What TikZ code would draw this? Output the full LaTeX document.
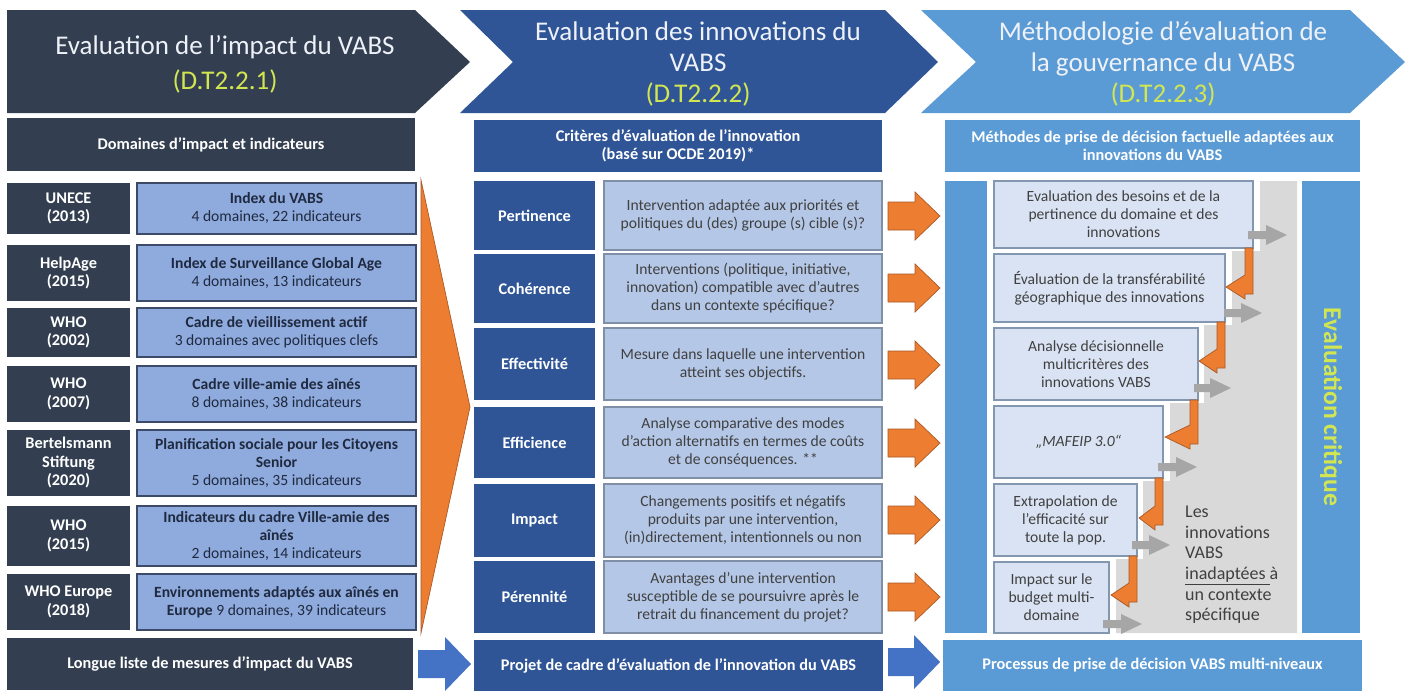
\documentclass[tikz,border=0pt]{standalone}
\usepackage{fontspec}
\setmainfont{Carlito}
\usepackage{tikz}

\definecolor{navy}{HTML}{333F50}
\definecolor{cboxA}{HTML}{8FAADC}
\definecolor{cbordA}{HTML}{3B4A66}
\definecolor{blueB}{HTML}{2F5597}
\definecolor{cboxB}{HTML}{B4C7E7}
\definecolor{cbordB}{HTML}{7F8FA6}
\definecolor{blueC}{HTML}{5B9BD5}
\definecolor{cboxC}{HTML}{DAE3F3}
\definecolor{cbordC}{HTML}{8497B0}
\definecolor{ygreen}{HTML}{D2E652}
\definecolor{orangeA}{HTML}{ED7D31}
\definecolor{orangeE}{HTML}{A85A28}
\definecolor{grayband}{HTML}{D9D9D9}
\definecolor{grayarrow}{HTML}{A6A6A6}
\definecolor{arrowblue}{HTML}{4472C4}
\definecolor{txtdark}{HTML}{404040}
\definecolor{txtnavy}{HTML}{1F2A40}
\definecolor{titletext}{HTML}{EEF2F8}

\newcommand\ftitle{\fontsize{27}{31}\selectfont}
\newcommand\fsmall{\fontsize{15.6}{18}\selectfont}
\newcommand\fhead{\fontsize{16.3}{18.5}\selectfont}
\newcommand\fles{\fontsize{18}{20.6}\selectfont}
\newcommand\fcrit{\fontsize{25.6}{29}\selectfont}

% rectangle node given by its corners: style, name, x1, y1, x2, y2, text
\newcommand\mkbox[7]{%
  \node[#1, minimum width={(#5-#3)*1pt}, minimum height={(#6-#4)*1pt}]
    (#2) at ({(#3+#5)/2},{(#4+#6)/2}) {#7};}

% straight block arrow: style, x1, x2, y centre, shaft half height, head half height, head length
\newcommand\blockarrow[7]{%
  \filldraw[#1] (#2,{#4-#5}) -- ({#3-#7},{#4-#5}) -- ({#3-#7},{#4-#6}) -- (#3,#4)
    -- ({#3-#7},{#4+#6}) -- ({#3-#7},{#4+#5}) -- (#2,{#4+#5}) -- cycle;}

% bent arrow going down then left: stem x, top y, head y, tip x
\newcommand\larrow[4]{%
  \filldraw[oarrow] ({#1+4},#2) -- ({#1+4},{#3+7}) -- ({#1-4},{#3+7}) -- ({#1-4},{#3+12})
    -- (#4,#3) -- ({#1-4},{#3-12}) -- ({#1-4},#2) -- cycle;}

\tikzset{
  title/.style={text=titletext, font=\ftitle, align=center, inner sep=0pt},
  hdr/.style={fill=#1, text=white, font=\fhead\bfseries, align=center, inner sep=1pt},
  cone/.style={fill=cboxA, draw=cbordA, line width=1.4pt, text=txtnavy, font=\fsmall, align=center, inner sep=1pt},
  ctwo/.style={fill=cboxB, draw=cbordB, line width=1.2pt, text=txtdark, font=\fsmall, align=center, inner sep=1pt},
  cthree/.style={fill=cboxC, draw=cbordC, line width=1.2pt, text=txtdark, font=\fsmall, align=center, inner sep=1pt},
  plainbar/.style={fill=#1, inner sep=0pt},
  oarrow/.style={fill=orangeA, draw=orangeE, line width=0.7pt},
  barrow/.style={fill=arrowblue, draw=none},
  garrow/.style={fill=grayarrow, draw=none},
}

\begin{document}
\begin{tikzpicture}[x=1pt,y=-1pt]
\fill[white] (0,0) rectangle (1408,691);
\useasboundingbox (0,0) rectangle (1408,691);

% ---------- headers ----------
\fill[navy]  (7,10) -- (415,10) -- (470,62) -- (415,113) -- (7,113) -- cycle;
\fill[blueB] (460,10) -- (885,10) -- (938,62) -- (885,113) -- (460,113) -- (513,62) -- cycle;
\fill[blueC] (921,10) -- (1350,10) -- (1405,62) -- (1350,113) -- (921,113) -- (976,62) -- cycle;

\node[title] (t1) at (225,64) {Evaluation de l’impact du VABS\\[4pt]{\color{ygreen}(D.T2.2.1)}};
\node[title] (t2) at (698,64) {Evaluation des innovations du\\VABS\\{\color{ygreen}(D.T2.2.2)}};
\node[title] (t3) at (1163,64) {Méthodologie d'évaluation de\\la gouvernance du VABS\\{\color{ygreen}(D.T2.2.3)}};

% ---------- column 1 ----------
\mkbox{hdr=navy}{h1}{7}{118}{415}{171}{Domaines d’impact et indicateurs}

\mkbox{hdr=navy}{l1}{7}{183}{130}{234}{UNECE\\(2013)}
\mkbox{cone}{c1}{137}{183}{416}{234}{\textbf{Index du VABS}\\4 domaines, 22 indicateurs}
\mkbox{hdr=navy}{l2}{7}{245}{130}{301}{HelpAge\\(2015)}
\mkbox{cone}{c2}{137}{245}{416}{301}{\textbf{Index de Surveillance Global Age}\\4 domaines, 13 indicateurs}
\mkbox{hdr=navy}{l3}{7}{308}{130}{357}{WHO\\(2002)}
\mkbox{cone}{c3}{137}{308}{416}{357}{\textbf{Cadre de vieillissement actif}\\3 domaines avec politiques clefs}
\mkbox{hdr=navy}{l4}{7}{366}{130}{422}{WHO\\(2007)}
\mkbox{cone}{c4}{137}{366}{416}{422}{\textbf{Cadre ville-amie des aînés}\\8 domaines, 38 indicateurs}
\mkbox{hdr=navy}{l5}{7}{430}{130}{496}{Bertelsmann\\Stiftung\\(2020)}
\mkbox{cone}{c5}{137}{430}{416}{496}{\textbf{Planification sociale pour les Citoyens}\\\textbf{Senior}\\5 domaines, 35 indicateurs}
\mkbox{hdr=navy}{l6}{7}{506}{130}{566}{WHO\\(2015)}
\mkbox{cone}{c6}{137}{506}{416}{566}{\textbf{Indicateurs du cadre Ville-amie des}\\\textbf{aînés}\\2 domaines, 14 indicateurs}
\mkbox{hdr=navy}{l7}{7}{574}{130}{630}{WHO Europe\\(2018)}
\mkbox{cone}{c7}{137}{574}{416}{630}{\textbf{Environnements adaptés aux aînés en}\\\textbf{Europe} 9 domaines, 39 indicateurs}

\mkbox{hdr=navy}{b1}{7}{638}{413}{690}{Longue liste de mesures d’impact du VABS}

% large orange chevron gathering column 1
\filldraw[oarrow] (421,180) -- (470,407) -- (421,633) -- cycle;
\blockarrow{barrow}{418}{471}{664}{14}{27}{26}

% ---------- column 2 ----------
\mkbox{hdr=blueB}{h2}{474}{120}{882}{172}{Critères d'évaluation de l'innovation\\(basé sur OCDE 2019)*}

\mkbox{hdr=blueB}{k1}{474}{181}{595}{250}{Pertinence}
\mkbox{ctwo}{d1}{604}{181}{882}{250}{Intervention adaptée aux priorités et\\politiques du (des) groupe (s) cible (s)?}
\mkbox{hdr=blueB}{k2}{474}{254}{595}{323}{Cohérence}
\mkbox{ctwo}{d2}{604}{254}{882}{323}{Interventions (politique, initiative,\\innovation) compatible avec d'autres\\dans un contexte spécifique?}
\mkbox{hdr=blueB}{k3}{474}{328}{595}{400}{Effectivité}
\mkbox{ctwo}{d3}{604}{328}{882}{400}{Mesure dans laquelle une intervention\\atteint ses objectifs.}
\mkbox{hdr=blueB}{k4}{474}{407}{595}{478}{Efficience}
\mkbox{ctwo}{d4}{604}{407}{882}{478}{Analyse comparative des modes\\d'action alternatifs en termes de coûts\\et de conséquences. **}
\mkbox{hdr=blueB}{k5}{474}{484}{595}{557}{Impact}
\mkbox{ctwo}{d5}{604}{484}{882}{557}{Changements positifs et négatifs\\produits par une intervention,\\(in)directement, intentionnels ou non}
\mkbox{hdr=blueB}{k6}{474}{561}{595}{633}{Pérennité}
\mkbox{ctwo}{d6}{604}{561}{882}{633}{Avantages d'une intervention\\susceptible de se poursuivre après le\\retrait du financement du projet?}

\mkbox{hdr=blueB}{b2}{474}{640}{883}{691}{Projet de cadre d'évaluation de l'innovation du VABS}

\foreach \yc in {216,288,365,443,520,597}{\blockarrow{oarrow}{888}{940}{\yc}{14}{24}{25}}
\blockarrow{barrow}{888}{940}{662}{14}{27}{26}

% ---------- column 3 ----------
\mkbox{hdr=blueC}{h3}{945}{120}{1360}{172}{Méthodes de prise de décision factuelle adaptées aux\\innovations du VABS}

\mkbox{plainbar=blueC}{lb}{945}{181}{987}{633}{}
\mkbox{plainbar=blueC}{rb}{1302}{181}{1360}{633}{}
\node[rotate=-90, text=ygreen, font=\fcrit\bfseries] (crit) at (rb.center) {Evaluation critique};

% grey staircase band behind the methods
\fill[grayband] (1260,181) -- (1297,181) -- (1297,633) -- (1116,633) -- (1116,559)
  -- (1143,559) -- (1143,481) -- (1170,481) -- (1170,403) -- (1204,403) -- (1204,325)
  -- (1232,325) -- (1232,251) -- (1260,251) -- cycle;

\mkbox{cthree}{m1}{994}{181}{1253}{248}{Evaluation des besoins et de la\\pertinence du domaine et des\\innovations}
\mkbox{cthree}{m2}{994}{254}{1225}{322}{Évaluation de la transférabilité\\géographique des innovations}
\mkbox{cthree}{m3}{994}{328}{1198}{400}{Analyse décisionnelle\\multicritères des\\innovations VABS}
\mkbox{cthree}{m4}{994}{406}{1163}{478}{\itshape „MAFEIP 3.0“}
\mkbox{cthree}{m5}{994}{484}{1137}{556}{Extrapolation de\\l'efficacité sur\\toute la pop.}
\mkbox{cthree}{m6}{994}{562}{1109}{633}{Impact sur le\\budget multi-\\domaine}

% bent arrows from one method to the next
\larrow{1249}{248}{287}{1226}
\larrow{1221}{322}{361}{1199}
\larrow{1194}{400}{437}{1165}
\larrow{1159}{478}{518}{1139}
\larrow{1133}{556}{595}{1111}

% grey exits towards the band
\blockarrow{garrow}{1248}{1287}{235}{4}{10}{21}
\blockarrow{garrow}{1224}{1262}{313}{4}{10}{21}
\blockarrow{garrow}{1194}{1231}{388}{4}{10}{21}
\blockarrow{garrow}{1158}{1197}{467}{4}{10}{21}
\blockarrow{garrow}{1132}{1170}{545}{4}{10}{21}
\blockarrow{garrow}{1103}{1142}{624}{4}{10}{21}

\node[anchor=north west, align=left, text=txtdark, font=\fles, inner sep=0pt] (inad) at (1185,506)
  {Les\\innovations\\VABS\\\underline{inadaptées\ }à\\un contexte\\spécifique};

\mkbox{hdr=blueC}{b3}{943}{640}{1362}{691}{Processus de prise de décision VABS multi-niveaux}
\end{tikzpicture}
\end{document}
